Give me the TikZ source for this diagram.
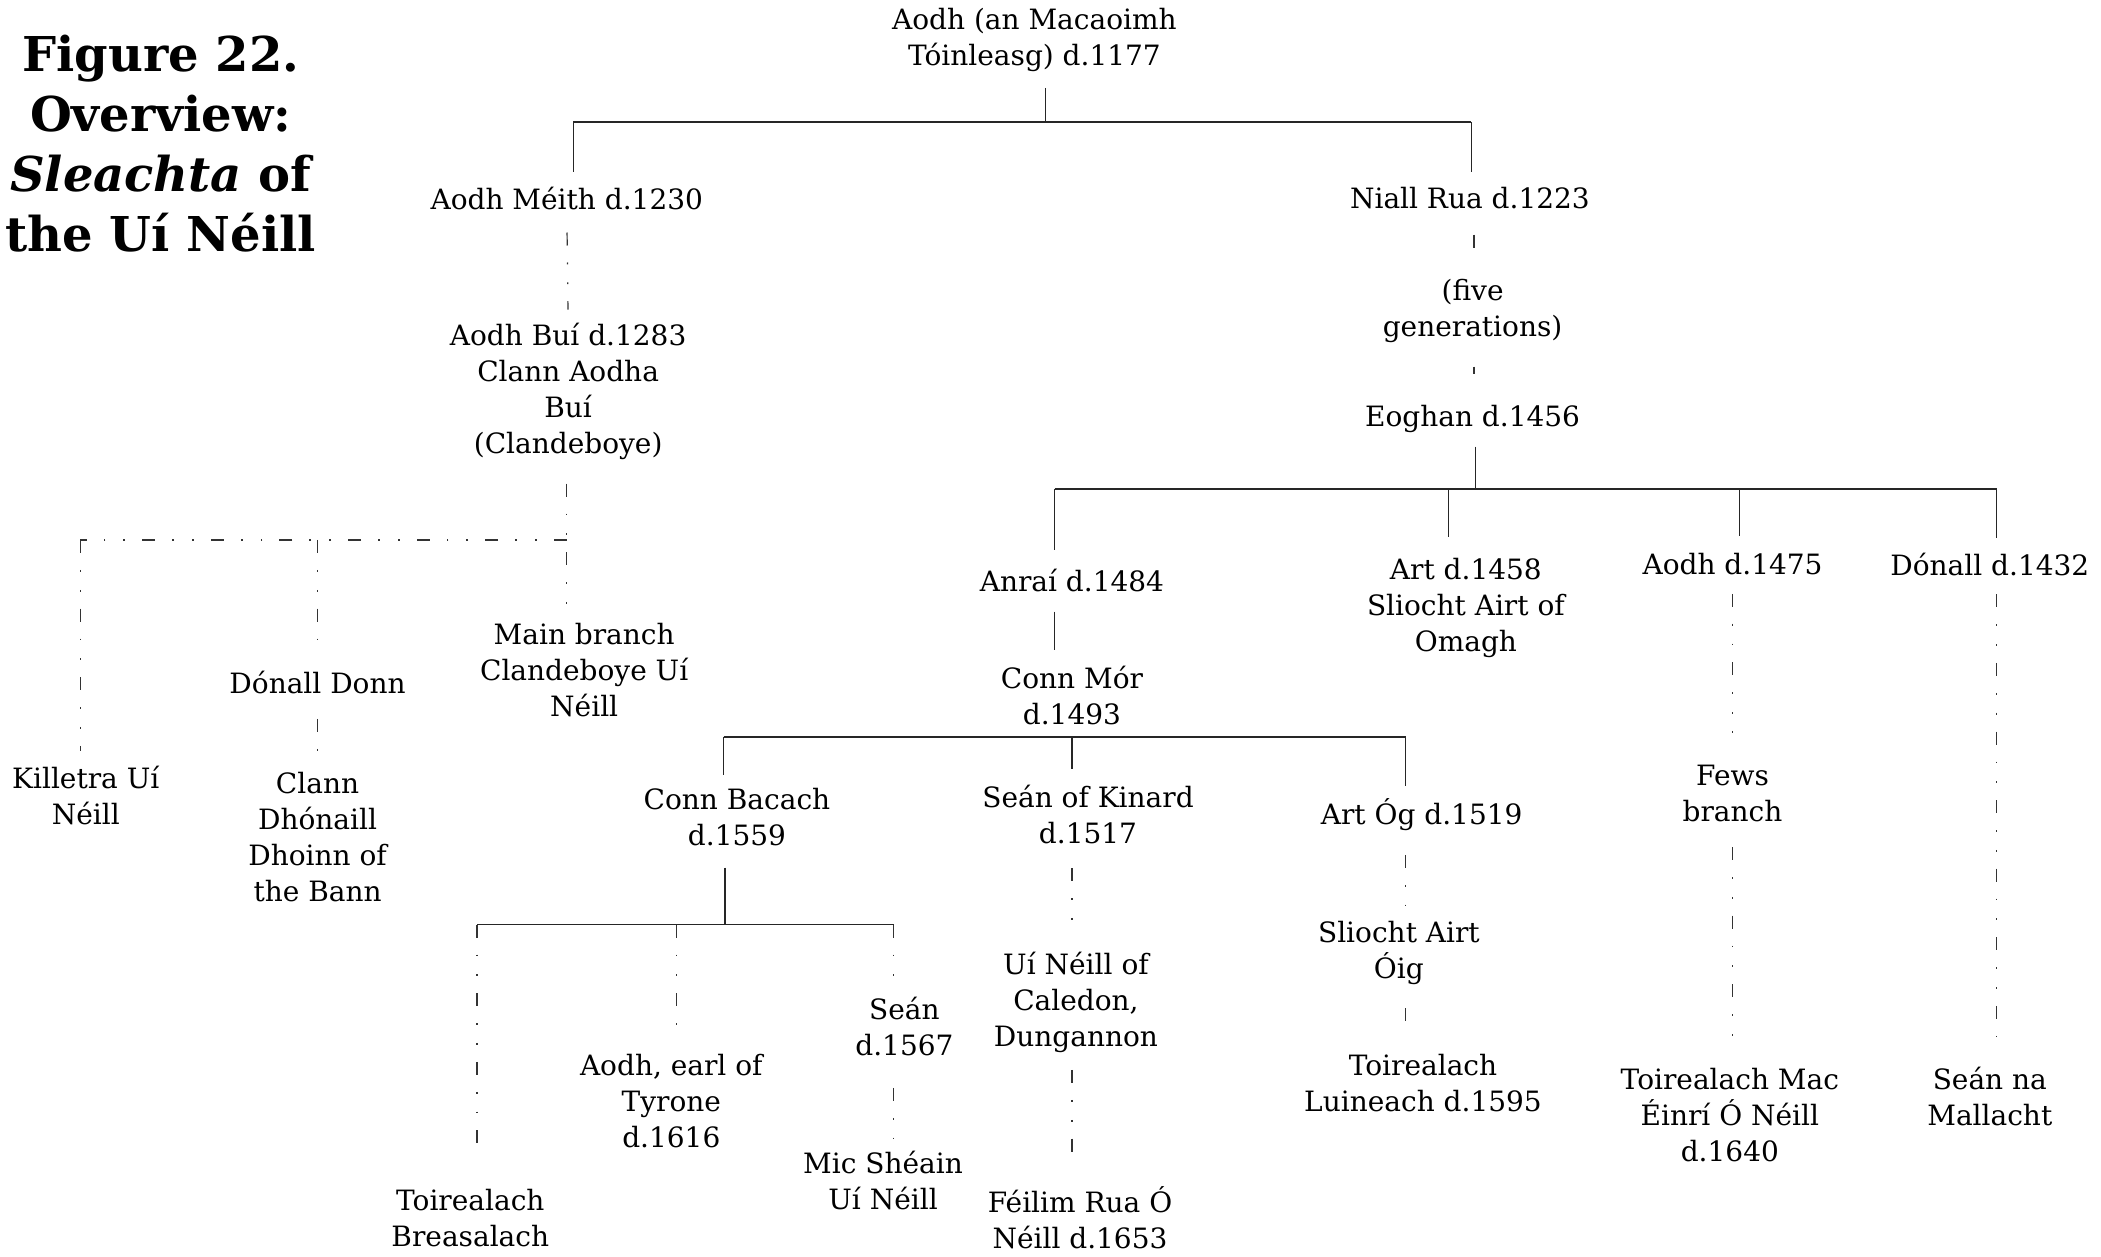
\documentclass[tikz,border=0pt]{standalone}
\usepackage{fontspec}
\setmainfont{DejaVu Serif}
\begin{document}
\begin{tikzpicture}[x=0.67pt,y=-0.67pt,
  every node/.style={inner sep=0pt, outer sep=0pt, align=center, font=\fontsize{14}{18}\selectfont, text=black},
  ttl/.style={font=\fontsize{24}{30}\selectfont\bfseries},
  ln/.style={line width=0.6pt, draw=black!85},
  dd/.style={line width=0.6pt, draw=black!80, dash pattern=on 6.5pt off 8.5pt on 0.9pt off 9pt on 0.9pt off 8.5pt}]
\useasboundingbox (0,0) rectangle (1568,938);

% title
\node[ttl] (title) at (120,107) {Figure 22.\\Overview:\\\textit{Sleachta} of\\the Uí Néill};

% nodes
\node (root) at (772,30) {Aodh (an Macaoimh\\Tóinleasg) d.1177};
\node (meith) at (423,148) {Aodh Méith d.1230};
\node (niall) at (1097,148) {Niall Rua d.1223};
\node (bui) at (424,292) {Aodh Buí d.1283\\Clann Aodha\\Buí\\(Clandeboye)};
\node (killetra) at (64,594) {Killetra Uí\\Néill};
\node (donn) at (237,509) {Dónall Donn};
\node (clann) at (237,625) {Clann\\Dhónaill\\Dhoinn of\\the Bann};
\node (mainb) at (436,500) {Main branch\\Clandeboye Uí\\Néill};
\node (five) at (1099,232) {(five\\generations)};
\node (eoghan) at (1099,313) {Eoghan d.1456};
\node (anrai) at (800,433) {Anraí d.1484};
\node (art) at (1094,454) {Art d.1458\\Sliocht Airt of\\Omagh};
\node (aodhb) at (1293,421) {Aodh d.1475};
\node (donall) at (1485,421) {Dónall d.1432};
\node (connmor) at (800,519) {Conn Mór\\d.1493};
\node (bacach) at (550,610) {Conn Bacach\\d.1559};
\node (kinard) at (812,608) {Seán of Kinard\\d.1517};
\node (artog) at (1061,608) {Art Óg d.1519};
\node (breas) at (351,909) {Toirealach\\Breasalach};
\node (tyrone) at (501,822) {Aodh, earl of\\Tyrone\\d.1616};
\node (sean) at (675,766) {Seán\\d.1567};
\node (mic) at (659,881) {Mic Shéain\\Uí Néill};
\node (caledon) at (803,748) {Uí Néill of\\Caledon,\\Dungannon};
\node (feilim) at (806,909) {Féilim Rua Ó\\Néill d.1653};
\node (sliocht) at (1044,711) {Sliocht Airt\\Óig};
\node (luineach) at (1062,808) {Toirealach\\Luineach d.1595};
\node (fews) at (1293,592) {Fews\\branch};
\node (toirmac) at (1291,832) {Toirealach Mac\\Éinrí Ó Néill\\d.1640};
\node (mallacht) at (1485,818) {Seán na\\Mallacht};

% junction coordinates
\coordinate (j0) at (780,91);
\coordinate (jL) at (428,91);
\coordinate (jR) at (1098,91);
\coordinate (cb) at (423,403);
\coordinate (cbL) at (60,403);
\coordinate (cbD) at (237,403);
\coordinate (e0) at (1101,365);
\coordinate (eA) at (787,365);
\coordinate (eArt) at (1081,365);
\coordinate (eAodh) at (1298,365);
\coordinate (eDon) at (1490,365);
\coordinate (c0) at (800,550);
\coordinate (cL) at (540,550);
\coordinate (cR) at (1049,550);
\coordinate (b0) at (541,690);
\coordinate (bL) at (356,690);
\coordinate (bM) at (505,690);
\coordinate (bR) at (667,690);
\coordinate (xN) at (1100,0);
\coordinate (xF) at (1293,0);

% solid connectors
\draw[ln, shorten <=8pt] (root.south -| j0) -- (j0);
\draw[ln] (jL) -- (jR);
\draw[ln, shorten >=7.5pt] (jL) -- (jL |- meith.north);
\draw[ln, shorten >=7.5pt] (jR) -- (jR |- niall.north);
\draw[ln, shorten <=6.7pt] (eoghan.south -| e0) -- (e0);
\draw[ln] (eA) -- (eDon);
\draw[ln, shorten >=9.4pt] (eA) -- (eA |- anrai.north);
\draw[ln, shorten >=10.7pt] (eArt) -- (eArt |- art.north);
\draw[ln, shorten >=8.7pt] (eAodh) -- (eAodh |- aodhb.north);
\draw[ln, shorten >=7.4pt] (eDon) -- (eDon |- donall.north);
\draw[ln, shorten <=10pt, shorten >=8pt] (anrai.south -| eA) -- (eA |- connmor.north);
\draw[ln] (cL) -- (cR);
\draw[ln, shorten >=6.7pt] (cL) -- (cL |- bacach.north);
\draw[ln, shorten >=8pt] (c0) -- (c0 |- kinard.north);
\draw[ln, shorten >=6.4pt] (cR) -- (cR |- artog.north);
\draw[ln, shorten <=10.7pt] (bacach.south -| b0) -- (b0);
\draw[ln] (bL) -- (bR);

% dashed connectors
\draw[dd, shorten <=11.4pt, shorten >=6.7pt] (meith.south) -- (bui.north);
\draw[dd, shorten <=12pt, shorten >=8.7pt] (bui.south -| cb) -- (cb |- mainb.north);
\draw[dd] (cb) -- (cbL);
\draw[dd, shorten >=8pt] (cbL) -- (cbL |- killetra.north);
\draw[dd, shorten >=8.7pt] (cbD) -- (cbD |- donn.north);
\draw[dd, shorten <=12.7pt, shorten >=10.7pt] (donn.south) -- (clann.north);
\draw[dd, shorten <=12.7pt, shorten >=7.4pt] (niall.south -| xN) -- (xN |- five.north);
\draw[dd, shorten <=12pt, shorten >=16pt] (five.south -| xN) -- (xN |- eoghan.north);
\draw[dd, shorten >=14.7pt] (bL) -- (bL |- breas.north);
\draw[dd, shorten >=6.7pt] (bM) -- (bM |- tyrone.north);
\draw[dd, shorten >=8pt] (bR) -- (bR |- sean.north);
\draw[dd, shorten <=16pt, shorten >=6.7pt] (sean.south -| bR) -- (bR |- mic.north);
\draw[dd, shorten <=12pt, shorten >=8pt] (kinard.south -| c0) -- (c0 |- caledon.north);
\draw[dd, shorten <=8.7pt, shorten >=10.4pt] (caledon.south -| c0) -- (c0 |- feilim.north);
\draw[dd, shorten <=12pt, shorten >=7.4pt] (artog.south -| cR) -- (cR |- sliocht.north);
\draw[dd, shorten <=12pt, shorten >=8.7pt] (sliocht.south -| cR) -- (cR |- luineach.north);
\draw[dd, shorten <=9.4pt, shorten >=16pt] (aodhb.south -| xF) -- (xF |- fews.north);
\draw[dd, shorten <=12.7pt, shorten >=15.4pt] (fews.south -| xF) -- (xF |- toirmac.north);
\draw[dd, shorten <=9.4pt, shorten >=14.7pt] (donall.south -| eDon) -- (eDon |- mallacht.north);
\end{tikzpicture}
\end{document}
